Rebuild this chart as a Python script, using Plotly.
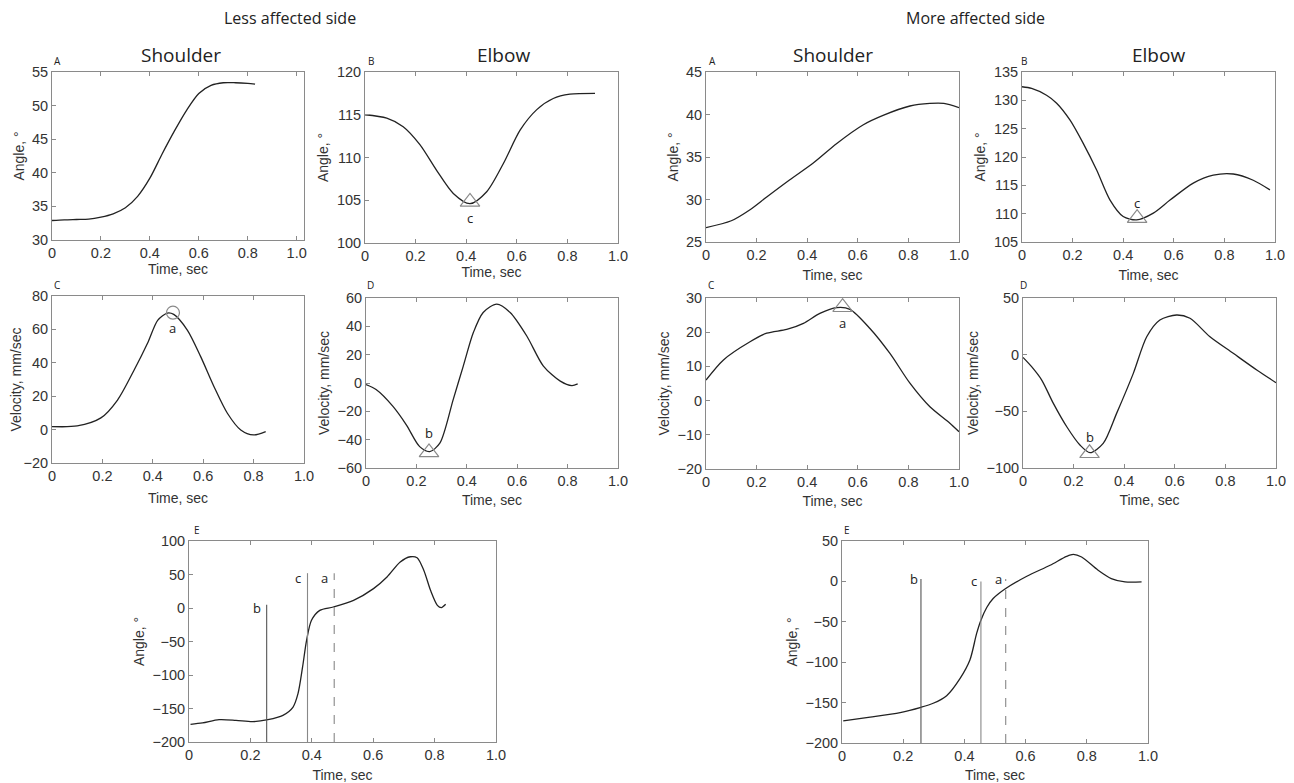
import plotly.graph_objects as go

# The page draws the figure 8px in from the top-left corner of the window.
OFF = 8
W, H = 1294 - OFF, 783 - OFF

# ---------------- data ----------------
# Less affected side
la_sh_ang_t = [0, 0.05, 0.1, 0.15, 0.2, 0.25, 0.3, 0.35, 0.4, 0.45, 0.5, 0.55, 0.6, 0.65, 0.7, 0.75, 0.8, 0.83]
la_sh_ang_v = [32.9, 33.0, 33.05, 33.1, 33.4, 33.9, 34.8, 36.5, 39.2, 42.8, 46.2, 49.3, 51.8, 53.0, 53.4, 53.4, 53.3, 53.2]

la_el_ang_t = [0, 0.086, 0.151, 0.217, 0.283, 0.349, 0.415, 0.481, 0.547, 0.613, 0.679, 0.744, 0.81, 0.909]
la_el_ang_v = [115.0, 114.6, 113.6, 111.5, 108.5, 105.8, 104.6, 106.0, 109.3, 113.2, 115.6, 116.9, 117.4, 117.5]

la_sh_vel_t = [0, 0.1, 0.194, 0.26, 0.326, 0.379, 0.42, 0.458, 0.483, 0.537, 0.59, 0.643, 0.696, 0.749, 0.8, 0.848]
la_sh_vel_v = [1.8, 2.2, 7.0, 17.7, 35.7, 51.7, 65.6, 69.8, 69.0, 59.6, 43.7, 25.7, 9.8, -0.2, -3.2, -1.2]

la_el_vel_t = [0, 0.04, 0.107, 0.16, 0.213, 0.253, 0.293, 0.346, 0.386, 0.426, 0.465, 0.519, 0.572, 0.638, 0.704, 0.771, 0.817, 0.84]
la_el_vel_v = [-1.1, -4.6, -16.5, -29.5, -44.9, -48.4, -42.5, -11.7, 11.9, 35.6, 49.8, 55.7, 49.8, 33.2, 11.9, 1.3, -1.8, -0.6]

la_phase_t = [0.005, 0.044, 0.098, 0.153, 0.208, 0.257, 0.306, 0.339, 0.355, 0.37, 0.383, 0.399, 0.426, 0.47, 0.536, 0.601, 0.645, 0.688, 0.721, 0.743, 0.765, 0.787, 0.809, 0.822, 0.836]
la_phase_v = [-173.6, -171.6, -166.7, -167.7, -169.7, -166.7, -160.2, -147.8, -127.9, -88, -48.3, -18.4, -3.5, 1.5, 11.4, 28.9, 46.3, 68.7, 76.5, 75, 56, 26, 4, 0.5, 5.5]

# More affected side
ma_sh_ang_t = [0, 0.1, 0.174, 0.24, 0.33, 0.424, 0.517, 0.622, 0.7, 0.806, 0.885, 0.94, 1.0]
ma_sh_ang_v = [26.7, 27.5, 28.8, 30.3, 32.3, 34.3, 36.6, 38.8, 39.9, 41.0, 41.3, 41.3, 40.8]

ma_el_ang_t = [0, 0.038, 0.097, 0.137, 0.19, 0.242, 0.295, 0.348, 0.4, 0.453, 0.519, 0.585, 0.677, 0.756, 0.835, 0.914, 0.98]
ma_el_ang_v = [132.4, 132.1, 130.9, 129.5, 126.5, 122.4, 117.7, 112.4, 109.5, 108.9, 110.1, 112.4, 115.4, 116.8, 117.0, 115.9, 114.2]

ma_sh_vel_t = [0, 0.069, 0.174, 0.24, 0.319, 0.385, 0.45, 0.517, 0.569, 0.648, 0.727, 0.806, 0.885, 0.964, 1.0]
ma_sh_vel_v = [6.0, 11.9, 17.2, 19.7, 20.8, 22.6, 25.5, 27.2, 26.7, 21.1, 13.8, 5.1, -1.8, -6.6, -9.1]

ma_el_vel_t = [0, 0.034, 0.074, 0.12, 0.173, 0.225, 0.265, 0.317, 0.37, 0.436, 0.489, 0.541, 0.607, 0.66, 0.739, 0.831, 0.924, 1.0]
ma_el_vel_v = [-2.4, -10.6, -22.4, -43, -63.6, -79.7, -86.5, -78.3, -51.8, -16.5, 15.8, 30.6, 35, 32.1, 15.8, 1.2, -13.5, -24.7]

ma_phase_t = [0.004, 0.092, 0.19, 0.258, 0.298, 0.342, 0.386, 0.418, 0.44, 0.454, 0.473, 0.494, 0.535, 0.604, 0.68, 0.734, 0.756, 0.783, 0.837, 0.88, 0.925, 0.979]
ma_phase_v = [-172.6, -168, -162.3, -155.8, -150.8, -141.4, -120, -97.3, -64.4, -48, -32.3, -21.2, -8.8, 6.4, 20, 31, 33.5, 30.2, 13.8, 3.5, -0.6, -0.6]

# event markers (time, value)
la_c = (0.415, 104.8)
la_a = (0.48, 70.0)
la_b = (0.25, -49.0)
ma_c = (0.455, 109.2)
ma_a = (0.54, 27.3)
ma_b = (0.263, -87.0)

# event lines in phase plots: time, top value
la_lines = {"b": (0.253, 5), "c": (0.386, 52), "a": (0.473, 52)}
ma_lines = {"b": (0.258, 3), "c": (0.454, 0), "a": (0.535, 3)}

xticks = [0, 0.2, 0.4, 0.6, 0.8, 1.0]
xtick_text = ["0", "0.2", "0.4", "0.6", "0.8", "1.0"]

# ---------------- layout helpers ----------------
def dom_x(a, b):
    return [(a - OFF) / W, (b - OFF) / W]

def dom_y(top, bot):
    return [1 - (bot - OFF) / H, 1 - (top - OFF) / H]

panels = [
    # (box px: x0,x1,ytop,ybot), xrange, yrange, ytickvals, ytitle, xtitle standoff
    ((52, 304, 72, 240), [0, 1.03], [30, 55], [30, 35, 40, 45, 50, 55], "Angle, °", 2),
    ((365, 618, 72, 243), [0, 1.0], [100, 120], [100, 105, 110, 115, 120], "Angle, °", 0),
    ((706, 959, 72, 242), [0, 1.0], [25, 45], [25, 30, 35, 40, 45], "Angle, °", 7),
    ((1022, 1275, 72, 242), [0, 1.0], [105, 135], [105, 110, 115, 120, 125, 130, 135], "Angle, °", 7),
    ((52, 304, 296, 463), [0, 1.0], [-20, 80], [-20, 0, 20, 40, 60, 80], "Velocity, mm/sec", 9),
    ((366, 618, 298, 468), [0, 1.0], [-60, 60], [-60, -40, -20, 0, 20, 40, 60], "Velocity, mm/sec", 6),
    ((706, 959, 298, 469), [0, 1.0], [-20, 30], [-20, -10, 0, 10, 20, 30], "Velocity, mm/sec", 6),
    ((1023, 1276, 298, 468), [0, 1.0], [-100, 50], [-100, -50, 0, 50], "Velocity, mm/sec", 6),
    ((189, 496, 541, 742), [0, 1.0], [-200, 100], [-200, -150, -100, -50, 0, 50, 100], "Angle, °", 7),
    ((842, 1148, 541, 743), [0, 1.0], [-200, 50], [-200, -150, -100, -50, 0, 50], "Angle, °", 8),
]

series = [
    (la_sh_ang_t, la_sh_ang_v), (la_el_ang_t, la_el_ang_v),
    (ma_sh_ang_t, ma_sh_ang_v), (ma_el_ang_t, ma_el_ang_v),
    (la_sh_vel_t, la_sh_vel_v), (la_el_vel_t, la_el_vel_v),
    (ma_sh_vel_t, ma_sh_vel_v), (ma_el_vel_t, ma_el_vel_v),
    (la_phase_t, la_phase_v), (ma_phase_t, ma_phase_v),
]

TICKFONT = dict(family="Liberation Sans, Arial, sans-serif", size=14.5, color="#333")
TITLEFONT = dict(family="Liberation Sans, Arial, sans-serif", size=14, color="#333")
LABELFONT = "Open Sans, Noto Sans, sans-serif"
AXCOL = "#8a8a8a"
LINECOL = "#222"
MARKCOL = "#8a8a8a"

fig = go.Figure()
layout = {}
for i, ((x0, x1, yt, yb), xr, yr, ytv, ytitle, xso) in enumerate(panels):
    n = i + 1
    xa = "xaxis" if n == 1 else f"xaxis{n}"
    ya = "yaxis" if n == 1 else f"yaxis{n}"
    xr_ref = "x" if n == 1 else f"x{n}"
    yr_ref = "y" if n == 1 else f"y{n}"
    layout[xa] = dict(domain=dom_x(x0, x1), range=xr, anchor=yr_ref, automargin=False,
                      tickvals=xticks, ticktext=xtick_text,
                      ticks="inside", ticklen=4, tickcolor=AXCOL,
                      showline=True, linecolor=AXCOL, linewidth=1, mirror="ticks",
                      showgrid=False, zeroline=False, tickfont=TICKFONT,
                      title=dict(text="Time, sec", font=TITLEFONT, standoff=xso))
    layout[ya] = dict(domain=dom_y(yt, yb), range=yr, anchor=xr_ref, automargin=False,
                      tickvals=ytv, ticks="inside", ticklen=4, tickcolor=AXCOL,
                      showline=True, linecolor=AXCOL, linewidth=1, mirror=True,
                      showgrid=False, zeroline=False, tickfont=TICKFONT,
                      title=dict(text=ytitle, font=TITLEFONT, standoff=4))
    t, v = series[i]
    fig.add_trace(go.Scatter(x=t, y=v, mode="lines", line=dict(color=LINECOL, width=1.3, shape="spline", smoothing=0.8),
                             xaxis=xr_ref, yaxis=yr_ref, showlegend=False, hoverinfo="skip"))

def add_marker(n, pt, symbol, size):
    xr_ref = "x" if n == 1 else f"x{n}"
    yr_ref = "y" if n == 1 else f"y{n}"
    fig.add_trace(go.Scatter(x=[pt[0]], y=[pt[1]], mode="markers",
                             marker=dict(symbol=symbol, size=size, color=MARKCOL,
                                         line=dict(color=MARKCOL, width=1.2)),
                             xaxis=xr_ref, yaxis=yr_ref, showlegend=False, hoverinfo="skip"))

add_marker(2, la_c, "triangle-up-open", 17)
add_marker(5, la_a, "circle-open", 13)
add_marker(6, la_b, "triangle-up-open", 17)
add_marker(4, ma_c, "triangle-up-open", 17)
add_marker(7, ma_a, "triangle-up-open", 17)
add_marker(8, ma_b, "triangle-up-open", 17)

annots = []
def lab(n, x, y, text, size=13):
    annots.append(dict(x=x, y=y, xref=f"x{n}", yref=f"y{n}", text=text, showarrow=False,
                       font=dict(family=LABELFONT, size=size, color="#222")))

lab(2, la_c[0], 102.9, "c")
lab(5, la_a[0], 60.7, "a")
lab(6, la_b[0], -35.2, "b")
lab(4, ma_c[0], 111.9, "c")
lab(7, ma_a[0], 22.8, "a")
lab(8, ma_b[0], -72.4, "b")

# phase plot event lines
for n, lines, offs in [(9, la_lines, 0.032), (10, ma_lines, 0.022)]:
    for name, (tx, top) in lines.items():
        dash = "dash" if name == "a" else "solid"
        col = "#555" if name == "b" else "#888"
        fig.add_trace(go.Scatter(x=[tx, tx], y=[-200, top], mode="lines",
                                 line=dict(color=col, width=1.1, dash=dash),
                                 xaxis=f"x{n}", yaxis=f"y{n}", showlegend=False, hoverinfo="skip"))
        ly = top - 7 if n == 9 and name != "b" else top
        if n == 9 and name == "b":
            ly = 0
        lab(n, tx - offs, ly, name)

# paper-level text
def ptext(px, py, text, size, family=LABELFONT):
    annots.append(dict(x=(px - OFF) / W, y=1 - (py - OFF) / H, xref="paper", yref="paper", text=text,
                       showarrow=False, xanchor="center", yanchor="middle",
                       font=dict(family=family, size=size, color="#222")))

ptext(290, 18, "Less affected side", 16)
ptext(975, 18, "More affected side", 16)
ptext(181, 55, "Shoulder", 19)
ptext(504, 55, "Elbow", 19)
ptext(833, 55, "Shoulder", 19)
ptext(1158, 55, "Elbow", 19)
for px, py, t in [(57, 61, "A"), (371, 61, "B"), (712, 61, "A"), (1024, 61, "B"),
                  (57, 285, "C"), (370, 285, "D"), (711, 285, "C"), (1023, 285, "D"),
                  (197, 530, "E"), (847, 530, "E")]:
    ptext(px, py, t, 10)

fig.update_layout(width=W, height=H, margin=dict(l=0, r=0, t=0, b=0, autoexpand=False),
                  paper_bgcolor="white", plot_bgcolor="white",
                  annotations=annots, showlegend=False, **layout)

fig.write_html("out.html")
